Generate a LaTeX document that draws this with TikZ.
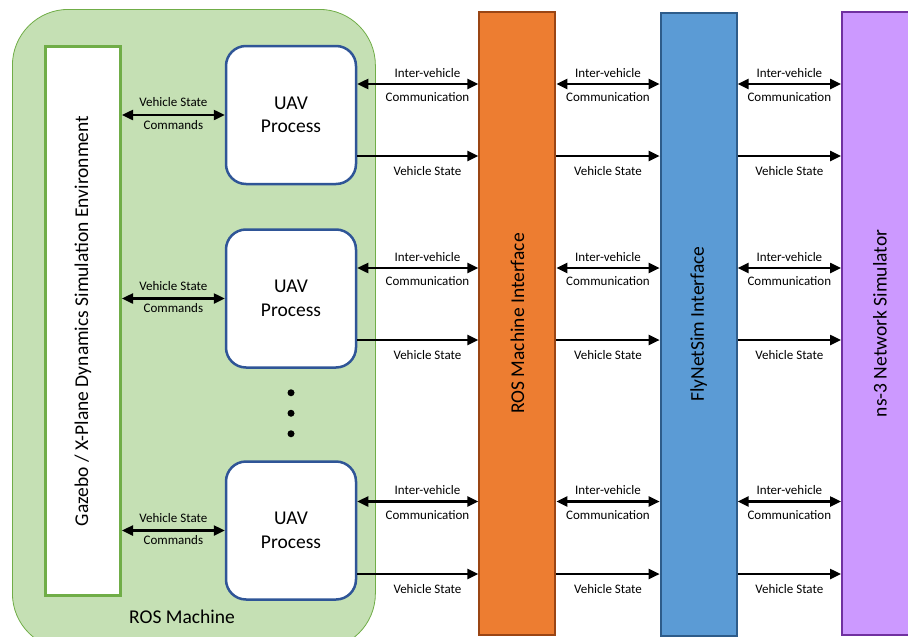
\documentclass[tikz,border=0pt]{standalone}
\usepackage{fontspec}
\setmainfont{Carlito}
\usetikzlibrary{arrows.meta, calc}

\definecolor{rosfill}{HTML}{C5E0B4}
\definecolor{rosline}{HTML}{70AD47}
\definecolor{uavline}{HTML}{2F5597}
\definecolor{orfill}{HTML}{ED7D31}
\definecolor{orline}{HTML}{9A4514}
\definecolor{blfill}{HTML}{5B9BD5}
\definecolor{blline}{HTML}{2E5C8A}
\definecolor{pufill}{HTML}{CC99FF}
\definecolor{puline}{HTML}{7030A0}

\tikzset{
    uavbox/.style={draw=uavline, line width=2.5pt, fill=white, rounded corners=20pt,
        minimum width=130pt, minimum height=138pt, align=center,
        font=\fontsize{19.5}{23.5}\selectfont},
    bar/.style={line width=2pt, minimum width=76pt, minimum height=623pt},
    bartext/.style={rotate=90, font=\fontsize{19.5}{22}\selectfont},
    lbl/.style={inner sep=0pt, font=\fontsize{13}{15}\selectfont},
    biarrow/.style={{Triangle[length=11pt,width=10pt]}-{Triangle[length=11pt,width=10pt]}, line width=2.4pt},
    onearrow/.style={-{Triangle[length=11pt,width=10pt]}, line width=2.4pt},
}

\begin{document}
\begin{tikzpicture}[x=1pt, y=-1pt]
    \useasboundingbox (0,0) rectangle (908,637);
    \clip (0,0) rectangle (908,637);
    %%% ROS machine
    \node[draw=rosline, fill=rosfill, line width=0.8pt, rounded corners=56pt,
        minimum width=363pt, minimum height=640pt, anchor=north west] (rosm) at (12,9) {};
    \node[font=\fontsize{19.5}{22}\selectfont] (rosml) at (182,617) {ROS Machine};
    %
    \node[draw=rosline, fill=white, line width=3pt, minimum width=75pt, minimum height=549pt] (sim) at (83,321) {};
    \node[bartext] (simtxt) at (sim) {Gazebo / X-Plane Dynamics Simulation Environment};
    %
    \node[uavbox] (uav1) at (291,115) {UAV\\Process};
    \node[uavbox] (uav2) at (291,298.5) {UAV\\Process};
    \node[uavbox] (uav3) at (291,530.5) {UAV\\Process};
    \fill ($(uav2.south)+(0,24)$) circle (3.5pt);
    \fill ($(uav2.south)+(0,44.5)$) circle (3.5pt);
    \fill ($(uav2.south)+(0,65)$) circle (3.5pt);
    %
    %%% Interfaces
    \node[bar, draw=orline, fill=orfill] (rosif) at (517.3,323.5) {};
    \node[bartext] at (rosif) {ROS Machine Interface};
    %
    \node[bar, draw=blline, fill=blfill] (flyif) at (698.7,324) {};
    \node[bartext] at (flyif) {FlyNetSim Interface};
    %
    \node[bar, draw=puline, fill=pufill] (ns3) at (880,323.5) {};
    \node[bartext] at (ns3) {ns-3 Network Simulator};
    %
    %%% First UAV
    \coordinate (i1) at ([yshift=31pt]uav1.east);
    \coordinate (v1) at ([yshift=-41pt]uav1.east);
    \draw[biarrow] (sim.east |- uav1) -- (uav1.west)
        node[lbl, midway, yshift=12.7pt] {Vehicle State} node[lbl, midway, yshift=-10pt] {Commands};
    \draw[biarrow] (i1) -- (i1 -| rosif.west)
        node[lbl, pos=0.58, yshift=11pt] {Inter-vehicle} node[lbl, pos=0.58, yshift=-13.4pt] {Communication};
    \draw[biarrow] (i1 -| rosif.east) -- (i1 -| flyif.west)
        node[lbl, midway, yshift=11pt] {Inter-vehicle} node[lbl, midway, yshift=-13.4pt] {Communication};
    \draw[biarrow] (i1 -| flyif.east) -- (i1 -| ns3.west)
        node[lbl, midway, yshift=11pt] {Inter-vehicle} node[lbl, midway, yshift=-13.4pt] {Communication};
    \draw[onearrow] (v1) -- (v1 -| rosif.west) node[lbl, pos=0.58, yshift=-15.3pt] {Vehicle State};
    \draw[onearrow] (v1 -| rosif.east) -- (v1 -| flyif.west) node[lbl, midway, yshift=-15.3pt] {Vehicle State};
    \draw[onearrow] (v1 -| flyif.east) -- (v1 -| ns3.west) node[lbl, midway, yshift=-15.3pt] {Vehicle State};
    %
    %%% Second UAV
    \coordinate (i2) at ([yshift=30.5pt]uav2.east);
    \coordinate (v2) at ([yshift=-41.5pt]uav2.east);
    \draw[biarrow] (sim.east |- uav2) -- (uav2.west)
        node[lbl, midway, yshift=12.7pt] {Vehicle State} node[lbl, midway, yshift=-10pt] {Commands};
    \draw[biarrow] (i2) -- (i2 -| rosif.west)
        node[lbl, pos=0.58, yshift=11pt] {Inter-vehicle} node[lbl, pos=0.58, yshift=-13.4pt] {Communication};
    \draw[biarrow] (i2 -| rosif.east) -- (i2 -| flyif.west)
        node[lbl, midway, yshift=11pt] {Inter-vehicle} node[lbl, midway, yshift=-13.4pt] {Communication};
    \draw[biarrow] (i2 -| flyif.east) -- (i2 -| ns3.west)
        node[lbl, midway, yshift=11pt] {Inter-vehicle} node[lbl, midway, yshift=-13.4pt] {Communication};
    \draw[onearrow] (v2) -- (v2 -| rosif.west) node[lbl, pos=0.58, yshift=-15.3pt] {Vehicle State};
    \draw[onearrow] (v2 -| rosif.east) -- (v2 -| flyif.west) node[lbl, midway, yshift=-15.3pt] {Vehicle State};
    \draw[onearrow] (v2 -| flyif.east) -- (v2 -| ns3.west) node[lbl, midway, yshift=-15.3pt] {Vehicle State};
    %
    %%% Third UAV
    \coordinate (i3) at ([yshift=29pt]uav3.east);
    \coordinate (v3) at ([yshift=-43.5pt]uav3.east);
    \draw[biarrow] (sim.east |- uav3) -- (uav3.west)
        node[lbl, midway, yshift=12.7pt] {Vehicle State} node[lbl, midway, yshift=-10pt] {Commands};
    \draw[biarrow] (i3) -- (i3 -| rosif.west)
        node[lbl, pos=0.58, yshift=11pt] {Inter-vehicle} node[lbl, pos=0.58, yshift=-13.4pt] {Communication};
    \draw[biarrow] (i3 -| rosif.east) -- (i3 -| flyif.west)
        node[lbl, midway, yshift=11pt] {Inter-vehicle} node[lbl, midway, yshift=-13.4pt] {Communication};
    \draw[biarrow] (i3 -| flyif.east) -- (i3 -| ns3.west)
        node[lbl, midway, yshift=11pt] {Inter-vehicle} node[lbl, midway, yshift=-13.4pt] {Communication};
    \draw[onearrow] (v3) -- (v3 -| rosif.west) node[lbl, pos=0.58, yshift=-15.3pt] {Vehicle State};
    \draw[onearrow] (v3 -| rosif.east) -- (v3 -| flyif.west) node[lbl, midway, yshift=-15.3pt] {Vehicle State};
    \draw[onearrow] (v3 -| flyif.east) -- (v3 -| ns3.west) node[lbl, midway, yshift=-15.3pt] {Vehicle State};
\end{tikzpicture}
\end{document}
